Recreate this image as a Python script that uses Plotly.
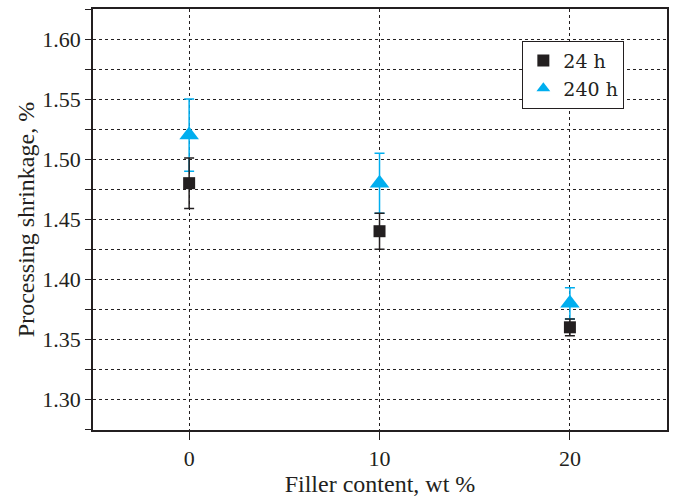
import plotly.graph_objects as go

filler = [0, 10, 20]
s24 = [1.48, 1.44, 1.36]
s24_err = [0.021, 0.015, 0.007]
s240 = [1.52, 1.48, 1.38]
s240_err = [0.030, 0.025, 0.013]
names = ["24 h", "240 h"]

FONT = "Liberation Serif"
INK = "#231f20"
fig = go.Figure()
fig.add_trace(go.Scatter(
    x=filler, y=s240, name=names[1], mode="markers",
    marker=dict(symbol="triangle-up", size=17, color="#00aeef"),
    error_y=dict(type="data", array=s240_err, color="#00aeef", thickness=1.5, width=5),
))
fig.add_trace(go.Scatter(
    x=filler, y=s24, name=names[0], mode="markers",
    marker=dict(symbol="square", size=12, color=INK),
    error_y=dict(type="data", array=s24_err, color=INK, thickness=1.5, width=5),
))

fig.update_layout(
    width=673, height=497,
    margin=dict(l=93, r=6, t=9, b=67),
    paper_bgcolor="white", plot_bgcolor="white",
    font=dict(family=FONT, size=22, color=INK),
    legend=dict(
        x=0.748, y=0.925, xanchor="left", yanchor="top",
        bordercolor=INK, borderwidth=1, bgcolor="white",
        font=dict(family="DejaVu Serif", size=19, color=INK),
        traceorder="reversed", itemsizing="constant",
        tracegroupgap=0, itemwidth=30,
    ),
    xaxis=dict(
        range=[-5.05, 25.1], tickvals=filler, ticktext=["0", "10", "20"],
        tickfont=dict(family=FONT, size=22, color=INK),
        showgrid=True, gridcolor=INK, griddash="dot", gridwidth=1,
        showline=True, linecolor=INK, linewidth=1.5, mirror=True,
        ticks="outside", ticklen=8, tickcolor=INK,
        zeroline=False, automargin=False,
        title=dict(text="Filler content, wt %", standoff=18,
                   font=dict(family=FONT, size=24, color=INK)),
    ),
    yaxis=dict(
        range=[1.2745, 1.625], tickvals=[1.30, 1.35, 1.40, 1.45, 1.50, 1.55, 1.60],
        tickformat=".2f",
        tickfont=dict(family=FONT, size=22, color=INK),
        showgrid=True, gridcolor=INK, griddash="dot", gridwidth=1,
        showline=True, linecolor=INK, linewidth=1.5, mirror=True,
        ticks="outside", ticklen=6, tickcolor=INK,
        zeroline=False, automargin=False,
        minor=dict(dtick=0.025, tick0=1.275, ticks="outside", ticklen=6, tickcolor=INK,
                   showgrid=True, gridcolor=INK, griddash="dot", gridwidth=1),
        title=dict(text="Processing shrinkage, %", standoff=1,
                   font=dict(family=FONT, size=24, color=INK)),
    ),
)
fig.write_html("out.html")
